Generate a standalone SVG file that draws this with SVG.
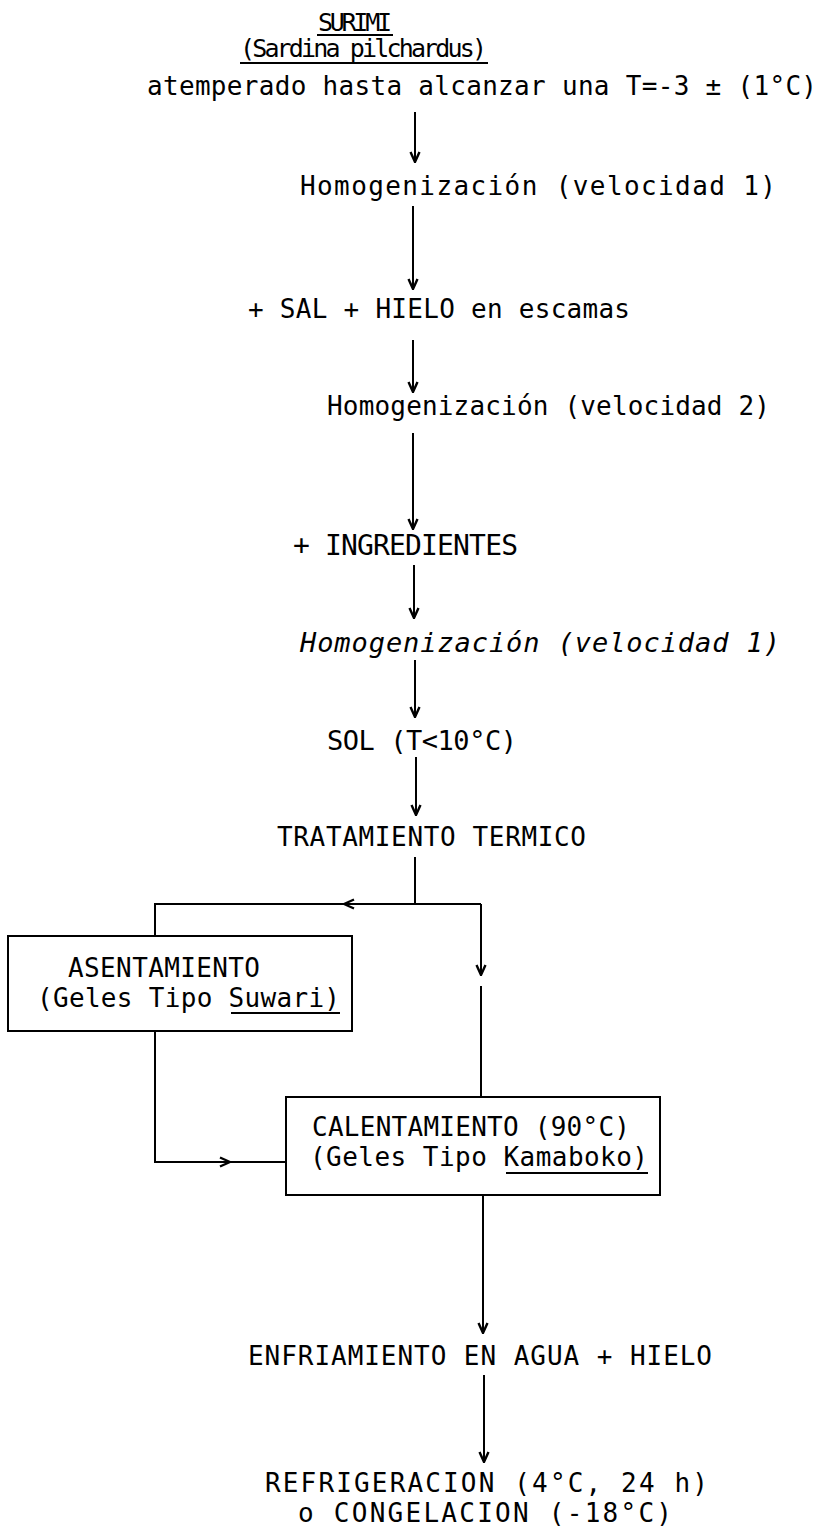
<svg xmlns="http://www.w3.org/2000/svg" width="824" height="1531" viewBox="0 0 824 1531">
<style>
text{font-family:"DejaVu Sans Mono","Liberation Mono",monospace;font-size:26px;fill:#000}
.it{font-style:italic}
.c{fill:none;stroke:#000;stroke-width:2}
.b{fill:#fff;stroke:#000;stroke-width:2}
.u{stroke:#000;stroke-width:2}
</style>
<defs>
<marker id="ah" viewBox="-12 -6 13 12" refX="0" refY="0" markerWidth="13" markerHeight="12" orient="auto" markerUnits="userSpaceOnUse">
<path d="M-10,-4.5 L0,0 L-10,4.5" fill="none" stroke="#000" stroke-width="2.4"/>
</marker>
</defs>
<rect width="824" height="1531" fill="#fff"/>
<g id="connectors">
<path class="c" d="M415,112 V162" marker-end="url(#ah)"/>
<path class="c" d="M413,206 V289" marker-end="url(#ah)"/>
<path class="c" d="M413,340 V392" marker-end="url(#ah)"/>
<path class="c" d="M413,433 V529" marker-end="url(#ah)"/>
<path class="c" d="M414,565 V618" marker-end="url(#ah)"/>
<path class="c" d="M415,660 V717" marker-end="url(#ah)"/>
<path class="c" d="M416,757 V815" marker-end="url(#ah)"/>
<path class="c" d="M415,857 V904 M481,904 H155 V936"/>
<path class="c" d="M415,904 H344" marker-end="url(#ah)"/>
<path class="c" d="M481,904 V975" marker-end="url(#ah)"/>
<path class="c" d="M481,986 V1097"/>
<path class="c" d="M155,1031 V1162 H286"/>
<path class="c" d="M155,1162 H230" marker-end="url(#ah)"/>
<path class="c" d="M483,1196 V1333" marker-end="url(#ah)"/>
<path class="c" d="M484,1375 V1462" marker-end="url(#ah)"/>
</g>
<g id="n-surimi">
<text x="318" y="31" textLength="74" lengthAdjust="spacing" style="font-size:25px">SURIMI</text>
<line class="u" x1="317" y1="35" x2="393" y2="35"/>
<text x="240" y="57" textLength="247" lengthAdjust="spacing" style="font-size:25px">(Sardina pilchardus)</text>
<line class="u" x1="240" y1="63" x2="488" y2="63"/>
<text x="147" y="95" textLength="670" lengthAdjust="spacing">atemperado hasta alcanzar una T=-3 ± (1°C)</text>
</g>
<g id="n-homog1">
<text x="300" y="195" textLength="476" lengthAdjust="spacing">Homogenización (velocidad 1)</text>
</g>
<g id="n-sal">
<text x="248" y="318" textLength="382" lengthAdjust="spacing">+ SAL + HIELO en escamas</text>
</g>
<g id="n-homog2">
<text x="327" y="415" textLength="443" lengthAdjust="spacing">Homogenización (velocidad 2)</text>
</g>
<g id="n-ingred">
<text x="293" y="555" textLength="225" lengthAdjust="spacing" style="font-size:28px">+ INGREDIENTES</text>
</g>
<g id="n-homog3">
<text class="it" x="300" y="652" textLength="480" lengthAdjust="spacing" style="font-size:27px">Homogenización (velocidad 1)</text>
</g>
<g id="n-sol">
<text x="327" y="750" textLength="190" lengthAdjust="spacing" style="font-size:27px">SOL (T&lt;10°C)</text>
</g>
<g id="n-trat">
<text x="277" y="846" textLength="309" lengthAdjust="spacing">TRATAMIENTO TERMICO</text>
</g>
<g id="n-asent">
<rect class="b" x="8" y="936" width="344" height="95"/>
<text x="68" y="977" textLength="192" lengthAdjust="spacing">ASENTAMIENTO</text>
<text x="37" y="1007" textLength="303" lengthAdjust="spacing">(Geles Tipo Suwari)</text>
<line class="u" x1="231" y1="1013" x2="340" y2="1013"/>
</g>
<g id="n-calent">
<rect class="b" x="286" y="1097" width="374" height="98"/>
<text x="312" y="1136" textLength="318" lengthAdjust="spacing">CALENTAMIENTO (90°C)</text>
<text x="310" y="1166" textLength="338" lengthAdjust="spacing">(Geles Tipo Kamaboko)</text>
<line class="u" x1="506" y1="1173" x2="648" y2="1173"/>
</g>
<g id="n-enfr">
<text x="248" y="1365" textLength="464" lengthAdjust="spacing">ENFRIAMIENTO EN AGUA + HIELO</text>
</g>
<g id="n-refr">
<text x="265" y="1492" textLength="443" lengthAdjust="spacing">REFRIGERACION (4°C, 24 h)</text>
<text x="298" y="1522" textLength="374" lengthAdjust="spacing">o CONGELACION (-18°C)</text>
</g>
</svg>
